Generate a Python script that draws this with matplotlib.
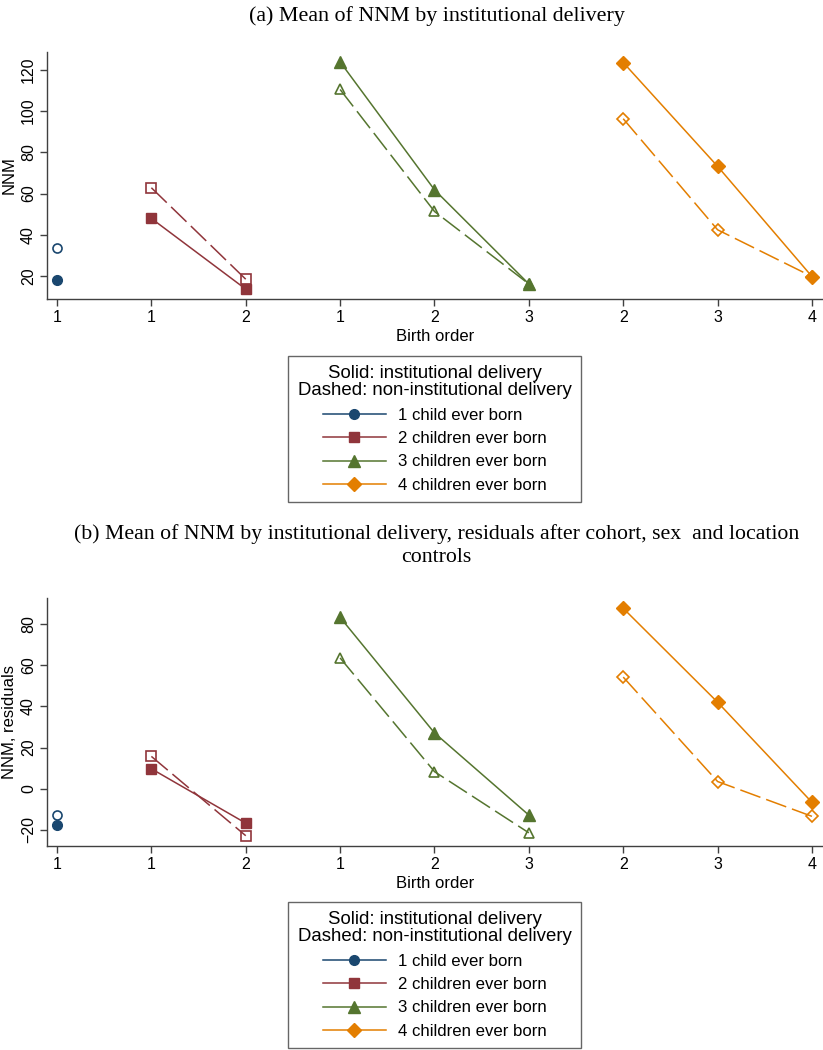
import matplotlib
matplotlib.use("Agg")
import matplotlib.pyplot as plt
from matplotlib.lines import Line2D

# ---------------- data ----------------
tick_labels = ["1", "1", "2", "1", "2", "3", "2", "3", "4"]
pos_1 = [1]
pos_2 = [2, 3]
pos_3 = [4, 5, 6]
pos_4 = [7, 8, 9]

# panel (a): mean NNM
a_inst_1 = [18.1]
a_non_1 = [33.4]
a_inst_2 = [47.9, 13.6]
a_non_2 = [62.8, 18.4]
a_inst_3 = [123.9, 61.8, 16.1]
a_non_3 = [110.5, 51.3, 16.1]
a_inst_4 = [123.6, 73.2, 19.7]
a_non_4 = [96.3, 42.4, 19.7]

# panel (b): residuals
b_inst_1 = [-17.6]
b_non_1 = [-12.7]
b_inst_2 = [9.7, -16.7]
b_non_2 = [15.7, -22.8]
b_inst_3 = [83.2, 27.1, -12.8]
b_non_3 = [63.5, 8.3, -21.4]
b_inst_4 = [87.6, 42.0, -6.6]
b_non_4 = [54.2, 3.5, -13.4]

series_labels = ["1 child ever born", "2 children ever born",
                 "3 children ever born", "4 children ever born"]
colors = ["#1a476f", "#90353b", "#55752f", "#e37e00"]
markers = ["o", "s", "^", "D"]
msizes = [7, 7, 8, 7]

SANS = "Liberation Sans"
SERIF = "Liberation Serif"

fig = plt.figure(figsize=(8.23, 10.5), dpi=100)
W, H = 823.0, 1050.0


def ax_rect(left, top, right, bottom):
    return [left / W, 1 - bottom / H, (right - left) / W, (bottom - top) / H]


def draw_panel(ax, inst, non, ylim, yticks, ylabel):
    groups = [pos_1, pos_2, pos_3, pos_4]
    for i in range(4):
        c = colors[i]
        ax.plot(groups[i], non[i], color=c, lw=1.1, ls=(0, (14, 4)),
                marker=markers[i], ms=msizes[i] - 0.5, mfc="none", mec=c, mew=1.2,
                zorder=2)
        ax.plot(groups[i], inst[i], color=c, lw=1.1, ls="-",
                marker=markers[i], ms=msizes[i], mfc=c, mec=c, zorder=3)
    ax.set_xlim(0.894, 9.117)
    ax.set_ylim(*ylim)
    ax.set_xticks(range(1, 10))
    ax.set_xticklabels(tick_labels, fontfamily=SANS, fontsize=11.5)
    ax.set_yticks(yticks)
    ax.set_yticklabels([("\u2212" + str(abs(t))) if t < 0 else str(t) for t in yticks],
                       fontfamily=SANS, fontsize=11.5, rotation=90, va="center")
    for s in ["top", "right"]:
        ax.spines[s].set_visible(False)
    for s in ["left", "bottom"]:
        ax.spines[s].set_color("#404040")
        ax.spines[s].set_linewidth(1.0)
    ax.tick_params(axis="both", direction="out", length=5, width=1.0, color="#404040",
                   labelcolor="black", pad=3)
    ax.set_xlabel("Birth order", fontfamily=SANS, fontsize=12, labelpad=3)
    ax.set_ylabel(ylabel, fontfamily=SANS, fontsize=12, labelpad=3)


def add_legend(top_px):
    handles = [Line2D([], [], color=colors[i], lw=1.1, marker=markers[i],
                      ms=msizes[i], mfc=colors[i], mec=colors[i]) for i in range(4)]
    leg = fig.legend(handles, series_labels, loc="upper center",
                     bbox_to_anchor=(434.5 / W, 1 - top_px / H),
                     title="Solid: institutional delivery\nDashed: non-institutional delivery",
                     prop={"family": SANS, "size": 12.1},
                     title_fontproperties={"family": SANS, "size": 13.4},
                     frameon=True, fancybox=False, edgecolor="#404040",
                     handlelength=3.75, handletextpad=0.7, labelspacing=0.5,
                     borderpad=0.55, borderaxespad=0)
    leg.get_frame().set_linewidth(1.0)
    leg.get_title().set_multialignment("center")
    leg.get_title().set_linespacing(1.0)
    return leg


# panel (a)
ax1 = fig.add_axes(ax_rect(47, 52, 823, 299))
draw_panel(ax1, [a_inst_1, a_inst_2, a_inst_3, a_inst_4],
           [a_non_1, a_non_2, a_non_3, a_non_4],
           (8.8, 128.7), [20, 40, 60, 80, 100, 120], "NNM")
fig.text(437 / W, 1 - 16 / H, "(a) Mean of NNM by institutional delivery",
         ha="center", va="center", fontfamily=SERIF, fontsize=15.8)
add_legend(356)

# panel (b)
ax2 = fig.add_axes(ax_rect(47, 598, 823, 846))
draw_panel(ax2, [b_inst_1, b_inst_2, b_inst_3, b_inst_4],
           [b_non_1, b_non_2, b_non_3, b_non_4],
           (-27.8, 92.6), [-20, 0, 20, 40, 60, 80], "NNM, residuals")
fig.text(436.5 / W, 1 - 534 / H,
         "(b) Mean of NNM by institutional delivery, residuals after cohort, sex  and location",
         ha="center", va="center", fontfamily=SERIF, fontsize=15.7)
fig.text(436.5 / W, 1 - 558 / H, "controls",
         ha="center", va="center", fontfamily=SERIF, fontsize=15.7)
add_legend(902)

fig.savefig("out.png", dpi=100, facecolor="white")
